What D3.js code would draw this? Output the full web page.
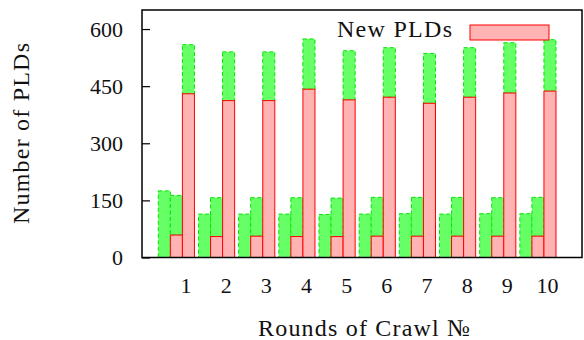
<!DOCTYPE html>
<html>
<head>
<meta charset="utf-8">
<script src="https://cdn.jsdelivr.net/npm/d3@7/dist/d3.min.js"></script>
<style>
  html, body { margin: 0; padding: 0; background: #fff; }
  svg { display: block; }
  text { font-family: "Liberation Serif", "DejaVu Serif", serif; fill: #111; }
</style>
</head>
<body>
<svg id="chart" width="584" height="340"></svg>
<script>
// ---- data ----
const rounds = ["1", "2", "3", "4", "5", "6", "7", "8", "9", "10"];
const firstOld = [175, 114, 114, 114, 113, 114, 115, 114, 115, 115];   // slot 1 (green only)
const secondNew = [59, 55, 56, 55, 55, 56, 56, 56, 56, 56];            // slot 2 red
const secondOld = [104, 102, 101, 102, 101, 102, 102, 102, 101, 102];  // slot 2 green on top
const thirdNew = [430, 412, 412, 442, 414, 421, 405, 421, 432, 437];   // slot 3 red
const thirdOld = [129, 128, 128, 132, 129, 130, 131, 130, 132, 135];   // slot 3 green on top
const yTicks = [0, 150, 300, 450, 600];
const legendLabel = "New PLDs";
const xTitle = "Rounds of Crawl №";
const yTitle = "Number of PLDs";

// ---- layout ----
const svg = d3.select("#chart");
const L = 142, R = 582, T = 10, B = 257.5;
const greenFill = "#66ff66", greenStroke = "#00e600";
const redFill = "#ffb3b3", redStroke = "#ff0000";

const x = d3.scaleBand().domain(rounds).range([158.3, 556]).paddingInner(0.1).paddingOuter(0);
const slot = d3.scaleBand().domain([0, 1, 2]).range([0, x.bandwidth()]).padding(0);
const y = d3.scaleLinear().domain([0, 650]).range([B, T]);

// build segments
const segs = [];
rounds.forEach((r, i) => {
  segs.push({ r, s: 0, y0: 0, y1: firstOld[i], kind: "old" });
  segs.push({ r, s: 1, y0: 0, y1: secondNew[i], kind: "new" });
  segs.push({ r, s: 1, y0: secondNew[i], y1: secondNew[i] + secondOld[i], kind: "old" });
  segs.push({ r, s: 2, y0: 0, y1: thirdNew[i], kind: "new" });
  segs.push({ r, s: 2, y0: thirdNew[i], y1: thirdNew[i] + thirdOld[i], kind: "old" });
});

const g = svg.append("g");
["old", "new"].forEach(kind => {
  g.selectAll("rect." + kind).data(segs.filter(d => d.kind === kind)).enter()
    .append("rect").attr("class", kind)
    .attr("x", d => x(d.r) + slot(d.s))
    .attr("width", slot.bandwidth())
    .attr("y", d => y(d.y1))
    .attr("height", d => y(d.y0) - y(d.y1))
    .attr("fill", kind === "old" ? greenFill : redFill)
    .attr("stroke", kind === "old" ? greenStroke : redStroke)
    .attr("stroke-width", 1)
    .attr("stroke-dasharray", kind === "old" ? "4,2.5" : null);
});

// y axis
const yAxis = d3.axisLeft(y).tickValues(yTicks).tickSizeInner(-8).tickSizeOuter(0).tickPadding(19);
const ya = svg.append("g").attr("transform", `translate(${L},0)`).call(yAxis);
ya.select(".domain").remove();
ya.selectAll(".tick line").attr("stroke", "#000").attr("stroke-width", 1.2);
ya.selectAll(".tick text").attr("font-size", 22).attr("font-family", "Liberation Serif").attr("fill", "#111").attr("dy", "0.34em");

// x labels
svg.append("g").selectAll("text").data(rounds).enter().append("text")
  .attr("x", d => x(d) + x.bandwidth() * 0.765)
  .attr("y", 293)
  .attr("text-anchor", "middle")
  .attr("font-size", 22)
  .text(d => d);

// frame
svg.append("rect").attr("x", L).attr("y", T).attr("width", R - L).attr("height", B - T)
  .attr("fill", "none").attr("stroke", "#000").attr("stroke-width", 1.5);

// legend
svg.append("text").attr("x", 337).attr("y", 37).attr("font-size", 24)
  .attr("textLength", 115).attr("lengthAdjust", "spacing").text(legendLabel);
svg.append("rect").attr("x", 470).attr("y", 25).attr("width", 79).attr("height", 15)
  .attr("fill", redFill).attr("stroke", redStroke).attr("stroke-width", 1);

// titles
svg.append("text").attr("x", 258).attr("y", 336).attr("font-size", 24)
  .attr("textLength", 212).attr("lengthAdjust", "spacing").text(xTitle);
svg.append("text").attr("transform", "translate(29,224) rotate(-90)").attr("font-size", 24)
  .attr("textLength", 181).attr("lengthAdjust", "spacing").text(yTitle);
</script>
</body>
</html>
